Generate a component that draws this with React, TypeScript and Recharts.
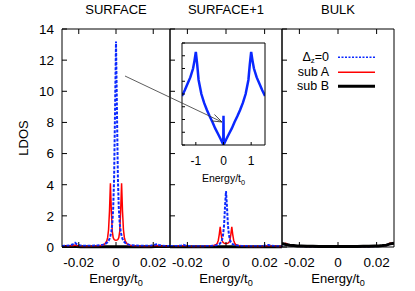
import { Fragment } from 'react';
import { Legend, Line, LineChart, XAxis, YAxis } from 'recharts';

const FONT = '"Liberation Sans", Arial, Helvetica, sans-serif';
const BLUE = '#0a28ff';
const RED = '#ff0000';

// energy grid shared by the three panels (units of t0)
const energy = [
  -0.029, -0.027, -0.025, -0.023, -0.022, -0.021, -0.019, -0.016, -0.013, -0.01, -0.008, -0.007,
  -0.006, -0.005, -0.0045, -0.004, -0.0035, -0.003, -0.0025, -0.002, -0.0015, -0.001, -0.0005, 0,
  0.0005, 0.001, 0.0015, 0.002, 0.0025, 0.003, 0.0035, 0.004, 0.0045, 0.005, 0.006, 0.007, 0.008,
  0.01, 0.013, 0.016, 0.019, 0.021, 0.022, 0.023, 0.025, 0.027, 0.029,
];

const surfaceDz0 = [
  0.06, 0.08, 0.1, 0.18, 0.27, 0.17, 0.09, 0.08, 0.08, 0.1, 0.12, 0.15, 0.19, 0.26, 0.32, 0.4, 0.52,
  0.72, 1.0, 1.5, 2.5, 4.5, 8.9, 13.2, 8.9, 4.5, 2.5, 1.5, 1.0, 0.72, 0.52, 0.4, 0.32, 0.26, 0.19,
  0.15, 0.12, 0.1, 0.08, 0.08, 0.09, 0.14, 0.2, 0.13, 0.08, 0.07, 0.06,
];
const surfaceSubA = [
  0.04, 0.05, 0.06, 0.08, 0.12, 0.08, 0.05, 0.04, 0.05, 0.06, 0.09, 0.13, 0.2, 0.38, 0.6, 1.1, 2.3,
  4.1, 2.3, 1.0, 0.6, 0.48, 0.44, 0.43, 0.44, 0.48, 0.6, 1.0, 2.3, 4.1, 2.3, 1.1, 0.6, 0.38, 0.2,
  0.13, 0.09, 0.06, 0.05, 0.04, 0.05, 0.08, 0.1, 0.07, 0.05, 0.05, 0.04,
];
const surfaceSubB = [
  0.03, 0.03, 0.03, 0.03, 0.03, 0.03, 0.02, 0.02, 0.02, 0.02, 0.02, 0.02, 0.02, 0.02, 0.02, 0.02, 0.02,
  0.02, 0.02, 0.02, 0.02, 0.02, 0.02, 0.02, 0.02, 0.02, 0.02, 0.02, 0.02, 0.02, 0.02, 0.02, 0.02, 0.02,
  0.02, 0.02, 0.02, 0.02, 0.02, 0.02, 0.02, 0.03, 0.03, 0.03, 0.03, 0.03, 0.03,
];

const surface1Dz0 = [
  0.05, 0.06, 0.07, 0.1, 0.14, 0.09, 0.06, 0.05, 0.05, 0.06, 0.07, 0.08, 0.09, 0.11, 0.13, 0.15, 0.18,
  0.24, 0.32, 0.48, 0.8, 1.4, 2.6, 3.6, 2.6, 1.4, 0.8, 0.48, 0.32, 0.24, 0.18, 0.15, 0.13, 0.11, 0.09,
  0.08, 0.07, 0.06, 0.05, 0.05, 0.06, 0.1, 0.13, 0.09, 0.06, 0.05, 0.05,
];
const surface1SubA = [
  0.03, 0.04, 0.05, 0.06, 0.08, 0.06, 0.04, 0.03, 0.04, 0.05, 0.06, 0.08, 0.11, 0.16, 0.24, 0.42, 0.8,
  1.3, 0.8, 0.42, 0.29, 0.25, 0.23, 0.22, 0.23, 0.25, 0.29, 0.42, 0.8, 1.3, 0.8, 0.42, 0.24, 0.16, 0.11,
  0.08, 0.06, 0.05, 0.04, 0.03, 0.04, 0.06, 0.08, 0.06, 0.05, 0.04, 0.03,
];
const surface1SubB = [
  0.02, 0.02, 0.02, 0.02, 0.02, 0.02, 0.02, 0.02, 0.02, 0.02, 0.02, 0.02, 0.02, 0.02, 0.02, 0.02, 0.02,
  0.02, 0.02, 0.02, 0.02, 0.02, 0.02, 0.02, 0.02, 0.02, 0.02, 0.02, 0.02, 0.02, 0.02, 0.02, 0.02, 0.02,
  0.02, 0.02, 0.02, 0.02, 0.02, 0.02, 0.02, 0.02, 0.02, 0.02, 0.02, 0.02, 0.02,
];

const bulkDz0 = [
  0.2, 0.15, 0.1, 0.08, 0.07, 0.06, 0.05, 0.04, 0.04, 0.03, 0.03, 0.03, 0.03, 0.03, 0.03, 0.03, 0.03,
  0.03, 0.03, 0.03, 0.03, 0.03, 0.03, 0.03, 0.03, 0.03, 0.03, 0.03, 0.03, 0.03, 0.03, 0.03, 0.03, 0.03,
  0.03, 0.03, 0.03, 0.03, 0.04, 0.04, 0.05, 0.06, 0.07, 0.08, 0.11, 0.19, 0.23,
];
const bulkSubA = [
  0.18, 0.24, 0.1, 0.08, 0.07, 0.06, 0.05, 0.04, 0.04, 0.03, 0.03, 0.03, 0.03, 0.03, 0.03, 0.03, 0.03,
  0.03, 0.03, 0.03, 0.03, 0.03, 0.03, 0.03, 0.03, 0.03, 0.03, 0.03, 0.03, 0.03, 0.03, 0.03, 0.03, 0.03,
  0.03, 0.03, 0.03, 0.03, 0.04, 0.04, 0.05, 0.06, 0.07, 0.08, 0.1, 0.26, 0.2,
];
const bulkSubB = [
  0.22, 0.16, 0.11, 0.09, 0.08, 0.07, 0.06, 0.05, 0.05, 0.04, 0.04, 0.04, 0.04, 0.04, 0.04, 0.04, 0.04,
  0.04, 0.04, 0.04, 0.04, 0.04, 0.04, 0.04, 0.04, 0.04, 0.04, 0.04, 0.04, 0.04, 0.04, 0.04, 0.04, 0.04,
  0.04, 0.04, 0.04, 0.04, 0.05, 0.05, 0.06, 0.07, 0.08, 0.09, 0.12, 0.2, 0.25,
];

// inset: wide energy window
const insetEnergy = [
  -1.5, -1.4, -1.3, -1.2, -1.1, -1.05, -1.0, -0.95, -0.9, -0.8, -0.7, -0.6, -0.5, -0.4, -0.3, -0.2, -0.1,
  -0.01, 0, 0.01, 0.1, 0.2, 0.3, 0.4, 0.5, 0.6, 0.7, 0.8, 0.9, 0.95, 1.0, 1.05, 1.1, 1.2, 1.3, 1.4, 1.5,
];
const insetDz0 = [
  3.85, 4.3, 4.8, 5.3, 6.0, 6.6, 7.3, 6.3, 5.1, 4.0, 3.3, 2.75, 2.25, 1.8, 1.3, 0.88, 0.45, 0.05, 2.3,
  0.05, 0.45, 0.88, 1.3, 1.8, 2.25, 2.75, 3.3, 4.0, 5.1, 6.3, 7.3, 6.6, 6.0, 5.3, 4.8, 4.3, 3.85,
];

const energyTicks = [-0.02, 0, 0.02];
const ldosTicks = [0, 2, 4, 6, 8, 10, 12, 14];
const insetXTicks = [-1, 0, 1];
const insetYTicks = [0, 1, 2, 3, 4, 5, 6, 7, 8];
const panelTitles = ['SURFACE', 'SURFACE+1', 'BULK'];
const seriesNames = ['=0', 'sub A', 'sub B'];

const E_DOMAIN: [number, number] = [-0.029, 0.029];
const noLabel = () => '';

// plot-area edges of the three panels, page pixels
const PLOT_TOP = 29;
const PLOT_BOTTOM = 247;
const panelEdges = [
  [62, 170],
  [170, 282],
  [282, 394],
];
const INSET = { left: 182, right: 265, top: 43, bottom: 145 };

function EnergyText({ x, y, size }: { x: number; y: number; size: number }) {
  return (
    <text x={x} y={y} textAnchor="middle" fontSize={size} fontFamily={FONT} fill="#000">
      Energy/t
      <tspan fontSize={size * 0.7} dy={3}>
        0
      </tspan>
    </text>
  );
}

function LegendBox() {
  const rows = [
    { label: <>Δ<span style={{ fontSize: 8, verticalAlign: -2, lineHeight: '8px' }}>z</span>{seriesNames[0]}</>, color: BLUE, w: 1.5, dash: '2 1.5' },
    { label: seriesNames[1], color: RED, w: 1.5, dash: undefined },
    { label: seriesNames[2], color: '#000', w: 3, dash: undefined },
  ];
  return (
    <div style={{ display: 'grid', gridTemplateColumns: '52px 37px', columnGap: 9, fontFamily: FONT, fontSize: 12.5, lineHeight: '14.5px', color: '#000' }}>
      {rows.map((r, i) => (
        <Fragment key={i}>
          <div style={{ textAlign: 'right', whiteSpace: 'nowrap', height: 14.5 }}>{r.label}</div>
          <svg width={37} height={14.5} style={{ display: 'block' }}>
            <line x1={0} x2={37} y1={7.25} y2={7.25} stroke={r.color} strokeWidth={r.w} strokeDasharray={r.dash} />
          </svg>
        </Fragment>
      ))}
    </div>
  );
}

interface PanelProps {
  chartLeft: number;
  plotLeft: number;
  plotRight: number;
  dz0: number[];
  subA: number[];
  subB: number[];
  showY?: boolean;
  legend?: boolean;
  subBOnTop?: boolean;
}

function Panel({ chartLeft, plotLeft, plotRight, dz0, subA, subB, showY, legend, subBOnTop }: PanelProps) {
  const rows = energy.map((e, i) => ({ e, dz0: dz0[i], subA: subA[i], subB: subB[i] }));
  const width = plotRight + 5 - chartLeft;
  const black = <Line key="b" dataKey="subB" stroke="#000" strokeWidth={3} dot={false} activeDot={false} isAnimationActive={false} />;
  const lines = [
    <Line key="a" dataKey="subA" stroke={RED} strokeWidth={1.5} dot={false} activeDot={false} isAnimationActive={false} />,
    <Line key="d" dataKey="dz0" stroke={BLUE} strokeWidth={2} strokeDasharray="3 1.5" dot={false} activeDot={false} isAnimationActive={false} />,
  ];
  const tickStyle = { fill: '#000', fontSize: 13.5, fontFamily: FONT };

  return (
    <div style={{ position: 'absolute', left: chartLeft, top: 0 }}>
      <LineChart width={width} height={291} data={rows} margin={{ top: PLOT_TOP - 5, right: 0, bottom: 291 - PLOT_BOTTOM - 30, left: 0 }}>
        <XAxis dataKey="e" type="number" domain={E_DOMAIN} ticks={energyTicks} interval={0} allowDataOverflow
          tickSize={-5} tickMargin={15} height={30} stroke="#000" tick={tickStyle} />
        <XAxis xAxisId="top" orientation="top" dataKey="e" type="number" domain={E_DOMAIN} ticks={energyTicks}
          interval={0} allowDataOverflow tickSize={-5} height={5} stroke="#000" tickFormatter={noLabel} />
        <YAxis domain={[0, 14]} ticks={ldosTicks} interval={0} width={plotLeft - chartLeft} tickSize={-5} tickMargin={13}
          stroke="#000" tick={tickStyle} tickFormatter={showY ? undefined : noLabel} />
        <YAxis yAxisId="right" orientation="right" domain={[0, 14]} ticks={ldosTicks} interval={0} width={5}
          tickSize={-5} stroke="#000" tickFormatter={noLabel} />
        {subBOnTop ? [...lines, black] : [black, ...lines]}
        {legend && (
          <Legend layout="horizontal" align="center" verticalAlign="middle" content={() => <LegendBox />}
            wrapperStyle={{ left: 0, top: 50, width: 100 }} />
        )}
      </LineChart>
    </div>
  );
}

function Inset() {
  const rows = insetEnergy.map((e, i) => ({ e, dz0: insetDz0[i] }));
  return (
    <div style={{ position: 'absolute', left: INSET.left - 5, top: INSET.top - 5 }}>
      <LineChart width={93} height={150} data={rows} margin={{ top: 4, right: 4, bottom: 3, left: 4 }}>
        <XAxis dataKey="e" type="number" domain={[-1.5, 1.5]} ticks={insetXTicks} interval={0} allowDataOverflow
          tickSize={-3} tickMargin={14} height={40} stroke="#000" tick={{ fill: '#000', fontSize: 12, fontFamily: FONT }} />
        <XAxis xAxisId="top" orientation="top" dataKey="e" type="number" domain={[-1.5, 1.5]} height={1} tick={false} stroke="#000" />
        <YAxis domain={[0, 8]} ticks={insetYTicks} interval={0} width={1} tickSize={-3} stroke="#000" tickFormatter={noLabel} />
        <YAxis yAxisId="right" orientation="right" domain={[0, 8]} ticks={insetYTicks} interval={0} width={1}
          tickSize={-3} stroke="#000" tickFormatter={noLabel} />
        <Line dataKey="dz0" stroke={BLUE} strokeWidth={2.5} dot={false} activeDot={false} isAnimationActive={false} />
      </LineChart>
    </div>
  );
}

export default function App() {
  const ldosY = (PLOT_TOP + PLOT_BOTTOM) / 2;
  return (
    <div style={{ position: 'absolute', left: 0, top: 0, width: 415, height: 291, background: '#fff' }}>
      <Panel chartLeft={0} plotLeft={62} plotRight={170} dz0={surfaceDz0} subA={surfaceSubA} subB={surfaceSubB} showY />
      <Panel chartLeft={165} plotLeft={170} plotRight={282} dz0={surface1Dz0} subA={surface1SubA} subB={surface1SubB} />
      <Panel chartLeft={277} plotLeft={282} plotRight={394} dz0={bulkDz0} subA={bulkSubA} subB={bulkSubB} legend subBOnTop />
      <Inset />
      {/* titles, axis labels and the arrow from the surface peak to the inset spike */}
      <svg width={415} height={291} style={{ position: 'absolute', left: 0, top: 0, pointerEvents: 'none' }}>
        <defs>
          <marker id="head" markerWidth={11} markerHeight={8} refX={10} refY={4} orient="auto" markerUnits="userSpaceOnUse">
            <path d="M0,0.5 L10,4 L0,7.5" fill="none" stroke="#333" strokeWidth={0.8} />
          </marker>
        </defs>
        {panelEdges.map(([l, r], i) => (
          <Fragment key={i}>
            <text x={(l + r) / 2} y={13.5} textAnchor="middle" fontSize={13} fontFamily={FONT} fill="#000">
              {panelTitles[i]}
            </text>
            <EnergyText x={(l + r) / 2} y={283} size={13} />
          </Fragment>
        ))}
        <text x={28} y={ldosY} transform={`rotate(-90, 28, ${ldosY})`} textAnchor="middle" fontSize={13} fontFamily={FONT} fill="#000">
          LDOS
        </text>
        <EnergyText x={(INSET.left + INSET.right) / 2} y={181.5} size={10.5} />
        <line x1={125} y1={76} x2={222} y2={122} stroke="#333" strokeWidth={0.8} markerEnd="url(#head)" />
      </svg>
    </div>
  );
}
